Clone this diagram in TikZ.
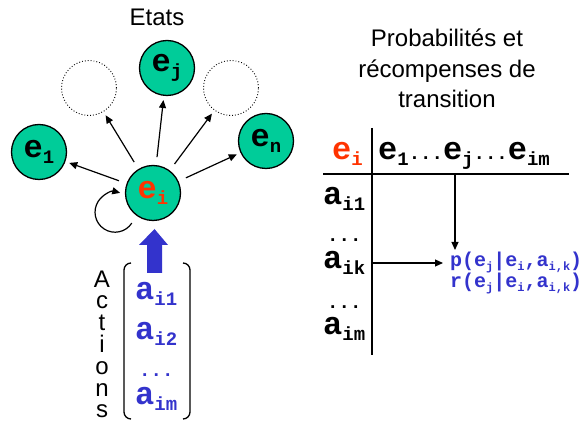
\documentclass[tikz,border=0pt]{standalone}
\usepackage{fontspec}
\setmainfont{Liberation Sans}
\newfontfamily\cour{Liberation Mono}
\usetikzlibrary{arrows.meta}

\definecolor{stategreen}{HTML}{00CC99}
\definecolor{stred}{HTML}{FF3300}
\definecolor{actblue}{HTML}{3333CC}

% large Courier symbol with a lowered subscript
\newcommand\subfont{\fontsize{19}{19}\selectfont}
\newcommand\sym[2]{#1\raisebox{-6pt}{\subfont #2}}
% small Courier symbol with a lowered subscript
\newcommand\ssub[1]{\raisebox{-4pt}{\fontsize{12}{12}\selectfont #1}}

\tikzset{
  sans/.style={font=\fontsize{24}{24}\selectfont, inner sep=0pt},
  big/.style={font=\cour\bfseries\fontsize{32}{32}\selectfont, inner sep=0pt},
  state/.style={circle, draw, line width=1.3pt, fill=stategreen,
    minimum size=55pt, inner sep=0pt, big},
  ghost/.style={circle, draw, dotted, line width=0.9pt,
    minimum size=55pt, inner sep=0pt},
  arr/.style={-{Triangle[length=8pt,width=7pt]}, line width=1.2pt},
  rule/.style={line width=1.8pt},
}

\begin{document}
\begin{tikzpicture}[x=1pt,y=1pt]
\useasboundingbox (0,0) rectangle (584,423);

% ---- state graph ----
\node[sans] (etats) at (157,406) {Etats};

\node[state] (ej) at (167,355) {\sym{e}{j}};
\node[ghost] (gl) at (89,335) {};
\node[ghost] (gr) at (231,335) {};
\node[state] (e1) at (39,271) {\sym{e}{1}};
\node[state] (en) at (266,282) {\sym{e}{n}};
\node[state, text=stred] (ei) at (153,230) {\sym{e}{i}};

\foreach \t in {e1,gl,ej,gr,en}
  \draw[arr, shorten <=8pt, shorten >=4pt] (ei) -- (\t);

% self transition: a loop below-left of e_i, back into its left side
\draw[arr] ([shift={(-21.2,-30.1)}]ei.center)
  arc[start angle=-33, end angle=-285, radius=20];

% ---- actions ----
\fill[actblue] (147,150) -- (162,150) -- (162,178) -- (168,178)
  -- (154.5,194) -- (139,178) -- (147,178) -- cycle;

\draw[line width=1.3pt, rounded corners=7pt]
  (131,160) -- (124,160) -- (124,4) -- (131,4);
\draw[line width=1.3pt, rounded corners=7pt]
  (183,160) -- (190,160) -- (190,4) -- (183,4);

\begin{scope}[every node/.style={big, text=actblue, anchor=base west}]
  \node (a1) at (135,123) {\sym{a}{i1}};
  \node (a2) at (135,83)  {\sym{a}{i2}};
  \node (ad) at (139,46)  {\subfont ...};
  \node (am) at (135,18)  {\sym{a}{im}};
\end{scope}

% vertical label, one letter per line (base = last line)
\node[sans, align=center, anchor=base, font=\fontsize{24}{21.8}\selectfont]
  (actions) at (102,5) {A\\c\\t\\i\\o\\n\\s};

% ---- transition table ----
\node[sans, anchor=base] (t1) at (447,376) {Probabilités et};
\node[sans, anchor=base] (t2) at (447,345) {récompenses de};
\node[sans, anchor=base] (t3) at (447,315) {transition};

\coordinate (vtop) at (372,295);
\coordinate (vbot) at (372,68);
\coordinate (hl) at (323,249);
\coordinate (hr) at (569,249);
\draw[rule] (vtop) -- (vbot);
\draw[rule] (hl) -- (hr);

\node[big, text=stred, anchor=base west] (hei) at (332,263) {\sym{e}{i}};
\node[big, anchor=base west] (hdr) at (378,263)
  {\sym{e}{1}{\subfont ...}\sym{e}{j}{\subfont ...}\sym{e}{im}};

\begin{scope}[every node/.style={big, anchor=base west}]
  \node (r1) at (323,218) {\sym{a}{i1}};
  \node (r2) at (327,181) {\subfont ...};
  \node (rk) at (323,154) {\sym{a}{ik}};
  \node (r4) at (327,114) {\subfont ...};
  \node (rm) at (323,88)  {\sym{a}{im}};
\end{scope}

% base anchor sits on the second line
\node[font=\cour\bfseries\fontsize{20}{20}\selectfont, text=actblue,
      align=left, anchor=base west, inner sep=0pt] (pr) at (450,135)
  {p(e\ssub{j}|e\ssub{i},a\ssub{i,k})\\[0pt]r(e\ssub{j}|e\ssub{i},a\ssub{i,k})};

\coordinate (colj) at (455,249);
\coordinate (colend) at (455,173);
\coordinate (rowk) at (372,160);
\coordinate (rowend) at (443,160);
\draw[arr] (colj) -- (colend);
\draw[arr] (rowk) -- (rowend);
\end{tikzpicture}
\end{document}
